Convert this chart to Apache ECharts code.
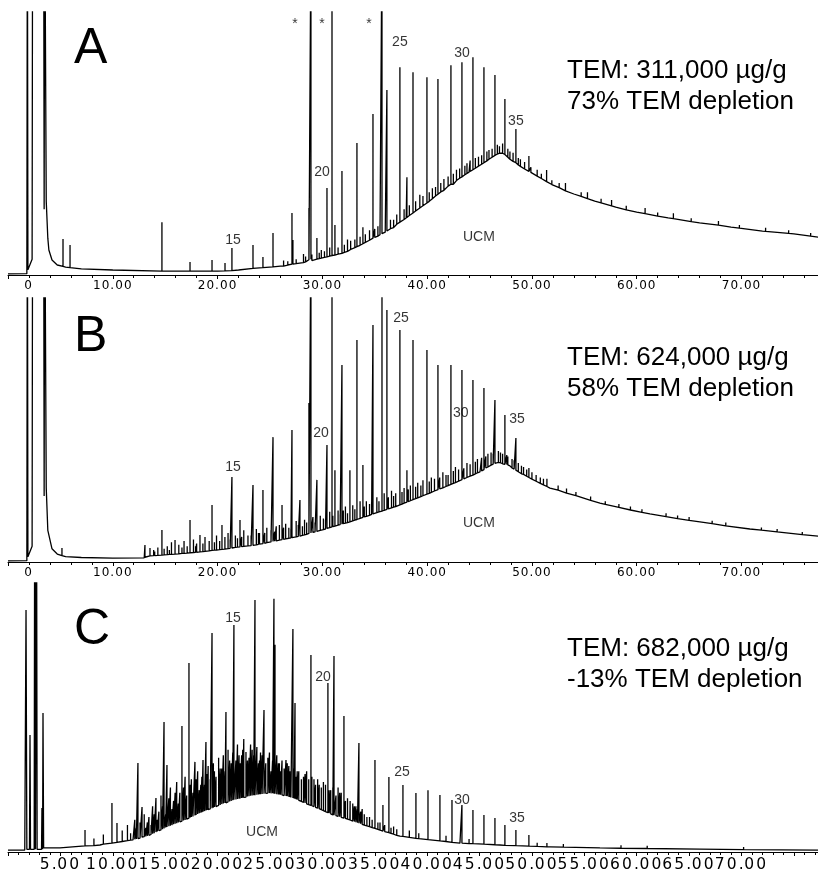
<!DOCTYPE html>
<html><head><meta charset="utf-8">
<script src="https://cdn.jsdelivr.net/npm/echarts@6/dist/echarts.min.js"></script>
<style>html,body{margin:0;padding:0;background:#fff}#c{width:818px;height:870px}</style>
</head><body><div id="c"></div>
<script>
// ---------- tick labels ----------
const ticksAB = [0, 10, 20, 30, 40, 50, 60, 70];
const ticksC = [5, 10, 15, 20, 25, 30, 35, 40, 45, 50, 55, 60, 65, 70];

// ---------- panel texts ----------
const panelLetters = ['A', 'B', 'C'];
const temLines = [
  ['TEM: 311,000 µg/g', '73% TEM depletion'],
  ['TEM: 624,000 µg/g', '58% TEM depletion'],
  ['TEM: 682,000 µg/g', '-13% TEM depletion']
];

// ---------- Panel A: trace without discrete peaks [time, abundance] ----------
const baseA = [[0,0.4],[1.8,0.5],[1.85,150],[1.9,2],[2.3,6],[2.35,150],[3.4,150],[3.45,25],[3.5,150],[3.6,150],[3.65,28],
  [3.8,14],[3.9,9.5],[4.2,5.7],[4.7,3.8],[5.5,3.0],[7,2.3],[10,1.9],[15,1.5],[20,1.5],[22,1.9],[24,2.7],[26,3.4],[28,4.6],
  [30,6.5],[32,8.4],[34,12.2],[36,16.3],[38,21.7],[40,27.4],[42,33.8],[44,39.1],[45.5,42.9],[46.5,45.6],[47,46.7],
  [47.5,45.6],[48,43.7],[49,41.0],[50,38.8],[52,34.2],[54,30.8],[56,28.1],[58,25.8],[60,23.9],[63,21.7],[66,19.8],
  [69,18.2],[72,16.7],[75,15.6],[77.3,14.4]];
// peaks [time, foot, top]
const peaksA = [[5.25,3.3,13.7],[5.92,2.8,11.4],[14.69,1.5,20.1],[17.37,1.5,4.9],[19.47,1.5,5.7],[20.71,1.6,4.6],
  [21.37,1.7,10.3],[23.38,2.5,11.4],[24.33,2.8,6.8],[25.29,3.1,16.0],[26.3,3.4,5.5],[27.10,4.1,23.6],[27.19,4.1,13.3],
  [28.2,4.7,8.0],[28.72,5.8,25.5],[28.91,6.0,130],[29.48,6.0,14.1],[29.9,6.4,9.5],[30.44,6.9,33.1],[30.92,7.4,130],
  [31.20,7.6,19.0],[31.87,8.2,39.5],[32.4,9.0,13.5],[33.30,10.8,50.2],[33.6,11.3,14.5],[33.87,11.9,18.2],[34.83,14.0,61.2],
  [35.3,14.8,18.5],[35.69,15.7,130],[36.16,16.7,70.3],[36.8,18.0,21.0],[37.40,20.1,79.0],[37.8,21.1,25.0],[38.07,21.9,37.2],
  [38.65,23.6,77.1],[39.3,25.5,30.5],[39.98,27.4,75.2],[40.5,29.0,33.0],[41.03,30.7,74.5],[41.6,32.2,36.5],[42.27,34.5,79.8],
  [42.8,35.9,40.0],[43.32,37.3,80.9],[43.8,38.6,42.5],[44.37,40.0,82.8],[44.9,41.4,45.0],[45.42,42.7,79.0],[45.9,44.0,47.5],
  [46.47,45.5,76.0],[46.9,46.3,49.0],[47.42,45.8,66.9],[47.9,44.0,47.0],[48.47,42.7,55.5],[48.9,41.3,44.0],[49.71,39.4,45.2],
  [50.5,37.6,40.0],[51.4,35.5,39.9],[51.9,34.4,36.0],[53.2,32.0,35.0],[55.3,29.0,31.5],[57.6,26.3,28.5],[60.8,23.3,25.5],
  [63.5,21.4,23.5],[67.8,19.0,20.5],[72.3,16.6,18.0]];
// small noise spikes [time, foot, top]
const noiseA = [[26.7,3.8,5.2],[27.5,4.3,6.0],[28.4,5.0,7.0],[29.0,5.5,7.8],[29.7,6.2,8.5],[30.2,6.7,9.0],[30.7,7.2,10.5],
  [31.5,7.9,10.5],[32.1,8.6,11.5],[32.7,9.7,13.0],[33.1,10.4,13.5],[34.1,12.4,15.5],[34.5,13.2,17.0],[35.0,14.3,17.5],
  [35.5,15.3,19.0],[36.5,17.6,21.0],[37.1,19.3,23.0],[38.3,22.6,26.5],[38.9,24.3,28.0],[39.6,26.3,30.0],[40.2,28.0,31.5],
  [40.8,30.0,33.5],[41.3,31.6,35.0],[42.0,33.8,37.5],[42.5,34.5,38.5],[43.1,36.8,40.5],[43.6,38.1,41.5],[44.1,39.4,43.5],
  [44.6,40.6,44.5],[45.2,42.1,45.5],[45.7,43.4,47.0],[46.2,44.8,48.0],[46.7,46.0,49.5],[47.2,46.3,50.0],[47.7,44.8,48.0],
  [48.2,43.2,46.5],[48.7,41.8,44.5],[49.3,40.3,43.0],[49.9,39.0,41.0],[50.9,36.7,38.5],[52.6,33.2,35.0],[54.7,29.9,31.5],
  [56.6,27.4,29.0],[59.0,24.8,26.3],[62.0,22.4,23.8],[65.2,20.3,21.6],[69.8,17.8,19.0],[74.5,15.8,17.0],[76.6,14.8,16.0]];
// annotations [text, time, abundance]
const notesA = [['*',27.39,95.4],['*',29.96,95.4],['*',34.45,95.4],['25',37.40,88.5],['30',43.32,84.4],['35',48.47,58.5],
  ['20',29.96,39.1],['15',21.47,13.3],['UCM',44.94,14.4]];

// ---------- Panel B ----------
const baseB = [[0,0.4],[1.8,0.5],[1.85,150],[1.9,2],[2.3,6],[2.35,150],[3.4,150],[3.45,25],[3.5,150],[3.6,150],[3.65,28],
  [3.8,12],[4.2,5],[4.7,3],[5.5,2],[7,1.7],[10,1.5],[13,1.6],[13.55,2.3],[18.32,3.8],[23.09,6.1],[27.86,9.8],[32.63,15.2],
  [37.40,21.6],[42.18,29.2],[45.04,34.1],[46.66,37.9],[47.9,36.4],[48.85,33.7],[51.72,28.0],[56.49,22.3],[61.26,18.2],
  [66.03,15.2],[70.80,12.5],[77.3,9.8]];
const peaksB = [[5.15,2.4,5.3],[13.07,1.8,6.4],[13.55,2.3,5.3],[13.9,2.4,4.5],[14.3,2.5,5.5],[14.69,2.6,12.1],[15.2,2.8,6],
  [15.6,2.9,7.5],[15.94,3.0,8.3],[16.3,3.1,6.5],[16.8,3.3,8],[17.37,3.5,15.9],[17.7,3.6,8.5],[18.0,3.7,7],[18.32,3.8,10.2],
  [18.8,4.0,9.5],[19.2,4.2,8],[19.47,4.4,21.6],[19.9,4.5,10],[20.42,4.8,14.0],[20.7,4.9,9.5],[21.0,5.1,11],[21.37,5.3,32.2],
  [21.7,5.5,10],[22.14,5.7,15.9],[22.5,5.9,12],[22.9,6.1,10],[23.38,6.3,29.2],[23.7,6.5,12.5],[24.0,6.8,11],[24.33,7.0,27.3],
  [24.7,7.3,13],[25.29,7.8,47.3],[25.6,8.0,13.5],[25.9,8.3,14],[26.15,8.5,21.6],[26.5,8.8,14.5],[26.8,9.0,13],[27.10,9.2,50.0],
  [27.5,9.5,15.5],[27.86,9.8,23.5],[28.3,10.3,16],[28.72,10.8,60.2],[28.91,11.0,130],[29.1,11.2,17],[29.48,11.6,31.1],
  [29.8,12.0,17.5],[30.1,12.3,16.5],[30.44,12.7,44.3],[30.7,13.0,19],[30.92,13.3,130],[31.20,13.6,34.8],[31.5,14.0,19.5],
  [31.87,14.3,74.6],[32.2,14.7,21],[32.63,15.2,34.8],[32.9,15.6,21.5],[33.30,16.1,84.1],[33.6,16.5,23],[33.87,16.9,36.7],
  [34.2,17.3,23],[34.5,17.7,22],[34.83,18.2,89.8],[35.2,18.7,24.5],[35.69,19.3,130],[35.9,19.6,26],[36.16,19.9,95.5],
  [36.6,20.5,27],[37.0,21.0,26],[37.40,21.6,87.9],[37.8,22.3,28],[38.07,22.7,34.8],[38.4,23.2,29],[38.65,23.6,84.1],
  [39.1,24.3,30],[39.6,25.1,31],[39.98,25.7,80.3],[40.4,26.4,32],[40.7,26.9,31.5],[41.03,27.4,74.6],[41.5,28.1,34],
  [41.8,28.6,33],[42.27,29.4,74.6],[42.7,30.1,36],[43.0,30.6,35],[43.32,31.2,72.7],[43.8,32.0,37.5],[44.1,32.5,37],
  [44.37,32.9,68.9],[44.8,33.8,39],[45.2,34.5,39.5],[45.42,35.0,65.9],[45.8,36.0,41],[46.1,36.7,41.5],[46.47,37.4,61.4],
  [46.8,37.7,42],[47.2,37.2,41],[47.42,37.0,55.7],[47.7,36.8,40],[48.1,35.6,39],[48.47,34.8,47.0],[48.7,34.2,37.5],
  [49.2,33.2,36],[49.71,32.0,35.6],[50.0,31.4,34],[50.8,29.8,32],[51.43,28.6,31.5],[52.5,27.2,29],[54.2,25.1,26.5],
  [57.0,21.8,23],[59.4,19.7,21],[62.8,17.2,18.5],[65.0,15.8,17],[68.5,13.7,15],[73.4,11.4,12.5]];
const noiseB = [[14.0,2.4,4.0],[14.9,2.7,5.0],[15.4,2.9,4.5],[16.6,3.3,5.5],[17.1,3.4,6.0],[17.9,3.7,6.0],[18.6,3.9,7.0],
  [19.7,4.5,7.5],[20.2,4.7,8.0],[21.2,5.2,8.5],[21.9,5.6,9.0],[22.3,5.8,9.5],[23.2,6.2,10.0],[23.9,6.7,11.0],[24.5,7.1,11.0],
  [25.1,7.6,12.0],[25.45,7.9,11.5],[26.3,8.6,13.0],[27.0,9.1,12.5],[27.7,9.7,14.0],[28.1,10.1,13.5],[28.5,10.5,15.0],
  [29.3,11.4,15.0],[30.3,12.5,16.0],[31.0,13.4,17.5],[31.7,14.2,18.0],[32.0,14.5,19.5],[32.4,14.9,18.5],[33.1,15.9,20.0],
  [34.0,17.1,21.0],[34.7,18.0,22.5],[35.4,19.0,23.0],[36.3,20.1,24.5],[36.8,20.8,25.0],[37.6,21.9,26.5],[38.2,22.9,27.5],
  [38.9,24.0,28.5],[39.4,24.8,29.0],[40.2,26.0,30.5],[41.2,27.7,32.0],[42.0,28.9,33.0],[42.5,29.8,34.5],[43.5,31.5,35.5],
  [44.6,33.4,38.0],[45.6,35.6,40.0],[46.3,37.1,41.0],[47.0,37.6,41.5],[47.6,36.9,40.5],[48.3,35.2,38.5],[49.0,33.4,36.5],
  [49.5,32.5,35.0],[50.4,30.6,33.0],[51.1,29.2,31.5],[53.3,26.1,27.8],[55.6,23.3,24.8],[58.3,20.7,22.0],[60.5,18.8,20.0],
  [63.9,16.4,17.6],[67.2,14.5,15.6],[71.9,12.1,13.1],[75.8,10.4,11.4]];
const notesB = [['15',21.47,36.0],['20',29.87,48.9],['25',37.5,92.4],['30',43.2,56.4],['35',48.57,54.2],['UCM',44.94,14.8]];

// ---------- Panel C ----------
const baseC = [[0,0.7],[1.6,0.7],[1.72,90],[1.8,1],[2.05,1],[2.1,43.5],[2.15,1],[2.5,1],[2.55,150],[2.62,1],[2.72,150],
  [2.78,1],[3.2,1],[3.24,16.4],[3.3,1],[3.34,51.7],[3.4,1.5],[3.53,1.5],[4.96,1.5],[8.78,2.6],[11.93,4.5],[13.55,6.3],
  [15.17,9.3],[16.89,11.9],[18.32,14.5],[19.94,17.1],[21.47,19.3],[23.09,20.8],[24.71,21.9],[26.24,21.2],[27.86,19.0],
  [29.48,16.4],[31.01,13.8],[32.63,11.9],[34.26,9.7],[35.78,7.8],[37.40,5.9],[40.27,4.5],[43.13,3.3],[46.95,2.6],
  [51.72,1.9],[56.49,1.5],[66.03,1.1],[77.3,0.7]];
const peaksC = [[7.35,2.3,8.2],[8.2,2.4,5],[9.1,2.9,6.5],[9.92,3.3,18.2],[10.40,3.6,10.8],[10.9,3.9,8],[11.4,4.2,10],
  [11.7,4.4,7],[12.1,4.7,12],[12.40,5.0,33.1],[12.79,5.5,16.7],[13.0,5.7,14],[13.3,6.0,11],[13.8,6.8,17],[14.12,7.4,20.1],
  [14.4,7.9,15],[14.6,8.2,21],[14.89,8.8,48.3],[15.17,9.3,32.3],[15.5,9.8,24],[15.8,10.3,19],[16.1,10.7,26],[16.4,11.2,22],
  [16.60,11.5,46.8],[16.9,11.9,28],[17.27,12.6,70.3],[17.5,13.0,27],[17.84,13.6,33.5],[18.1,14.1,30],[18.4,14.6,25],
  [18.61,15.0,34.2],[18.89,15.4,40.9],[19.1,15.8,32],[19.47,16.3,81.4],[19.7,16.7,30],[20.1,17.3,35],[20.4,17.8,31],
  [20.80,18.3,52.0],[21.0,18.6,38],[21.3,19.0,33],[21.56,19.4,84.4],[21.9,19.7,40],[22.3,20.1,36],[22.5,20.3,42],
  [22.71,20.4,37.2],[23.0,20.7,35],[23.3,21.0,38],[23.57,21.1,93.7],[23.9,21.4,33],[24.1,21.5,37],[24.43,21.7,52.8],
  [24.8,21.9,35],[25.1,21.8,30],[25.38,21.7,94.1],[25.48,21.7,77.0],[25.8,21.4,33],[26.0,21.3,30],[26.53,20.8,34.2],
  [26.8,20.5,32],[27.0,20.3,28],[27.19,20.1,82.9],[27.39,19.8,55.4],[27.6,19.4,30],[28.2,18.4,28],[28.5,17.9,30],
  [28.91,17.3,73.2],[29.2,16.9,27],[29.7,16.1,25],[30.1,15.4,26],[30.53,14.6,62.8],[30.8,14.2,23],[31.11,13.7,72.9],
  [31.5,13.2,24],[31.8,12.9,22],[32.06,12.6,50.6],[32.4,12.2,20],[32.9,11.5,18],[33.2,11.1,17],[33.49,10.7,40.5],
  [33.8,10.3,16],[34.5,9.4,13],[35.02,8.8,34.2],[35.3,8.4,11],[35.78,7.8,17.5],[36.35,7.2,27.9],[36.8,6.6,9.5],
  [37.69,5.8,24.9],[38.3,5.4,8],[38.93,5.1,21.9],[39.2,5.0,7],[40.08,4.6,23.0],[41.22,4.1,21.2],[41.8,3.9,6],
  [42.37,3.6,19.3],[43.32,3.3,17.5],[44.0,3.1,4.8],[44.37,3.1,15.6],[45.42,2.9,13.8],[46.47,2.7,12.6],[47.42,2.5,10.0],
  [48.47,2.4,8.2],[49.71,2.2,6.3],[50.5,2.1,3.4],[51.43,1.9,3.3],[53.0,1.8,3],[58.5,1.4,2.5],[61.0,1.3,2.3],[70.2,0.9,1.9]];
const noiseC = [[12.25,4.8,9],[12.6,5.2,11],[13.15,5.8,9],[13.45,6.2,13],[13.65,6.5,10],[13.95,7.0,14],[14.25,7.6,12],
  [14.75,8.5,17],[15.05,9.1,14],[15.35,9.6,20],[15.65,10.0,16],[15.95,10.5,22],[16.25,11.0,18],[16.75,11.7,24],
  [17.05,12.2,21],[17.4,12.8,25],[17.65,13.2,22],[17.95,13.8,27],[18.25,14.4,23],[18.5,14.8,28],[18.75,15.2,25],
  [19.0,15.6,29],[19.3,16.0,27],[19.6,16.5,33],[19.85,16.9,28],[20.25,17.5,31],[20.55,18.0,36],[20.7,18.2,30],
  [21.15,18.8,34],[21.45,19.2,37],[21.75,19.5,34],[22.05,19.8,36],[22.15,19.9,33],[22.4,20.2,38],[22.85,20.6,34],
  [23.15,20.9,40],[23.45,21.1,36],[23.75,21.3,39],[24.0,21.5,34],[24.25,21.6,36],[24.6,21.8,33],[24.95,21.9,37],
  [25.25,21.8,34],[25.65,21.5,36],[25.9,21.4,33],[26.15,21.2,34],[26.35,21.0,31],[26.65,20.7,33],[26.9,20.4,30],
  [27.3,19.9,31],[27.5,19.6,28],[27.75,19.2,30],[28.0,18.8,27],[28.35,18.2,29],[28.7,17.6,27],[29.0,17.2,28],
  [29.35,16.6,25],[29.55,16.3,27],[29.9,15.7,24],[30.3,15.0,25],[30.65,14.4,23],[31.0,13.8,24],[31.3,13.5,21],
  [31.65,13.1,22],[32.2,12.5,19],[32.65,11.9,19],[33.05,11.3,17],[33.35,10.9,16],[33.65,10.5,15],[34.0,10.0,14],
  [34.25,9.7,13],[34.75,9.1,12],[35.5,8.1,11],[35.95,7.6,10],[36.55,6.9,9],[37.1,6.2,8.5]];
const notesC = [['15',21.47,87.0],['20',30.06,65.1],['25',37.6,29.7],['30',43.32,19.3],['35',48.57,12.6],['UCM',24.24,7.4]];

// ---------- build ----------
function buildTrace(base, peaks, noise) {
  const pts = base.map(p => [p[0], p[1]]);
  peaks.concat(noise).forEach(([t, foot, top]) => { pts.push([t, foot], [t, top], [t, foot]); });
  pts.sort((a, b) => a[0] - b[0]);
  return pts;
}
function richLabel(v, ticks, shiftZero) {
  const r = Math.round(v * 100) / 100;
  if (ticks.indexOf(r) < 0) return '';
  if (r === 0) return shiftZero ? '{z|0}' : '';
  return r.toFixed(2).split('').map(ch => ch === '.' ? '{p|.}' : '{d|' + ch + '}').join('');
}

const grids = [
  { left: 8, right: 0, top: 12, height: 263, containLabel: false, outerBoundsMode: 'none' },
  { left: 8, right: 0, top: 298, height: 264, containLabel: false, outerBoundsMode: 'none' },
  { left: 8, right: 0, top: 583, height: 269, containLabel: false, outerBoundsMode: 'none' }
];
const traces = [buildTrace(baseA, peaksA, noiseA), buildTrace(baseB, peaksB, noiseB), buildTrace(baseC, peaksC, noiseC)];
const notes = [notesA, notesB, notesC];

function xAxisFor(i) {
  const isC = i === 2;
  const cell = isC ? 12 : 8.6;
  const dot = isC ? 5.5 : 5;
  const fs = isC ? 15.5 : 12;
  return {
    type: 'value', gridIndex: i, min: 0, max: 77.3, interval: isC ? 5 : 10,
    axisLine: { show: true, onZero: false, lineStyle: { color: '#000', width: 1 } },
    axisTick: { show: true, inside: false, length: 4, lineStyle: { color: '#000' } },
    minorTick: { show: true, splitNumber: 5, length: 3, lineStyle: { color: '#000' } },
    splitLine: { show: false }, minorSplitLine: { show: false },
    axisLabel: {
      show: true, margin: 5, hideOverlap: false, showMinLabel: true, showMaxLabel: true,
      backgroundColor: isC ? '#fff' : 'transparent',
      formatter: v => richLabel(v, isC ? ticksC : ticksAB, !isC),
      rich: {
        d: { width: cell, fontSize: fs, fontFamily: 'DejaVu Sans', color: '#000', align: 'left' },
        p: { width: dot, fontSize: fs, fontFamily: 'DejaVu Sans', color: '#000', align: 'left' },
        z: { fontSize: fs, fontFamily: 'DejaVu Sans', color: '#000', padding: [0, 0, 0, 40] }
      }
    }
  };
}

const series = [];
traces.forEach((data, i) => {
  series.push({
    type: 'line', xAxisIndex: i, yAxisIndex: i, data: data, showSymbol: false, symbol: 'none',
    lineStyle: { color: '#000', width: 1.3 }, clip: true, silent: true, animation: false
  });
  series.push({
    type: 'scatter', xAxisIndex: i, yAxisIndex: i, symbolSize: 0, silent: true, animation: false,
    data: notes[i].map(n => ({ value: [n[1], n[2]], name: n[0] })),
    label: { show: true, position: 'inside', formatter: p => p.name, color: '#000',
      fontFamily: 'Liberation Sans', fontSize: 14 }
  });
});

const graphic = [];
const letterY = [50, 338, 631];
const temY = [70, 357, 648];
panelLetters.forEach((L, i) => {
  graphic.push({ type: 'text', left: 74, top: letterY[i] - 26,
    style: { text: L, font: '50px "Liberation Sans"', fill: '#000' } });
  graphic.push({ type: 'text', left: 567, top: temY[i] - 15,
    style: { text: temLines[i][0] + '\n' + temLines[i][1], font: '26px "Liberation Sans"', fill: '#000', lineHeight: 31 } });
});

const chart = echarts.init(document.getElementById('c'), null, { renderer: 'canvas' });
chart.setOption({
  animation: false,
  backgroundColor: '#fff',
  grid: grids,
  xAxis: [0, 1, 2].map(xAxisFor),
  yAxis: [0, 1, 2].map(i => ({ type: 'value', gridIndex: i, min: 0, max: 100, show: false })),
  series: series,
  graphic: graphic
});
</script>
</body></html>
